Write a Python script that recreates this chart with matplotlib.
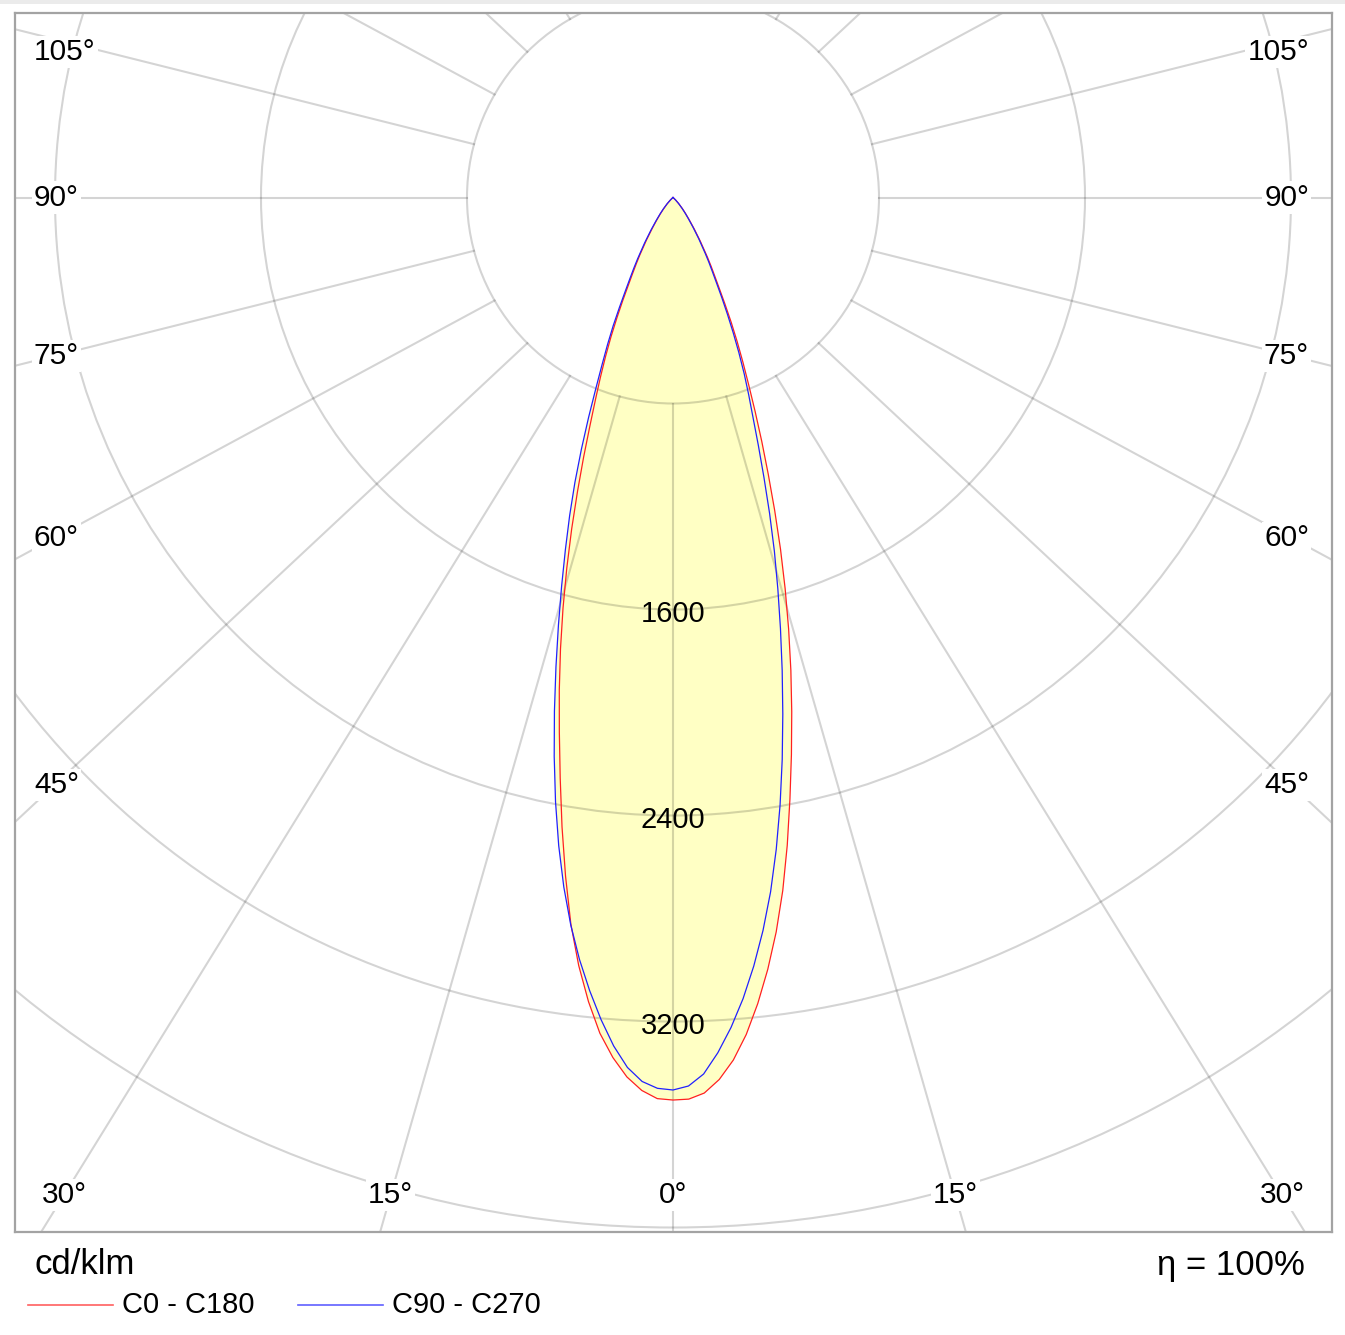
import numpy as np
import matplotlib.pyplot as plt
from matplotlib.lines import Line2D
from matplotlib.patches import Circle, Rectangle

plt.rcParams['font.family'] = ['Liberation Sans', 'DejaVu Sans']

# luminous intensity (cd/klm) against gamma (degrees from nadir)
gamma = list(range(0, 31)) + [32, 34, 36, 38, 40, 43, 46, 50, 90]
c0 = [3505, 3502, 3480, 3430, 3358, 3263, 3148, 3020, 2880, 2725,
      2555, 2380, 2212, 2050, 1892, 1735, 1580, 1428, 1278, 1136,
      1008, 890, 785, 695, 613, 535, 460, 395, 345, 305,
      267, 200, 148, 108, 80, 58, 33, 15, 4, 0]
c180 = [3505, 3500, 3470, 3420, 3348, 3258, 3140, 3005, 2850, 2668,
        2482, 2296, 2123, 1963, 1806, 1650, 1496, 1346, 1200, 1066,
        943, 840, 752, 670, 592, 515, 445, 382, 334, 294,
        258, 194, 143, 105, 78, 56, 32, 14, 4, 0]
c90 = [3466, 3451, 3406, 3326, 3231, 3123, 3001, 2868, 2723, 2563,
       2395, 2223, 2051, 1885, 1725, 1573, 1428, 1283, 1143, 1018,
       908, 820, 738, 655, 575, 500, 432, 372, 325, 287,
       250, 188, 138, 101, 75, 54, 31, 14, 4, 0]
c270 = [3466, 3460, 3435, 3383, 3303, 3205, 3097, 2981, 2853, 2711,
        2556, 2391, 2219, 2047, 1879, 1719, 1569, 1429, 1299, 1170,
        1040, 915, 800, 705, 625, 550, 474, 408, 356, 314,
        275, 208, 154, 113, 83, 60, 34, 15, 4, 0]

rings = [800, 1600, 2400, 3200, 4000, 4800]
ring_labels = [1600, 2400, 3200]
spokes = np.arange(0, 181, 15)
side_labels = [45, 60, 75, 90, 105]
bottom_labels = [0, 15, 30]

W, H = 1345, 1335
u = 800 / 206.0          # cd/klm per pixel
cx, cy = 673, 197.5      # origin in pixels
box = (15, 13, 1332, 1232)
xlim = (-(cx - box[0]) * u, (box[2] - cx) * u)
ylim = (-(box[3] - cy) * u, (cy - box[1]) * u)
skew = 1.07              # spokes lean a little, as in the original drawing

fig = plt.figure(figsize=(W / 100, H / 100), dpi=100)
fig.add_artist(Rectangle((0, 1 - 4 / H), 1, 4 / H, transform=fig.transFigure,
                         color='#ebebeb', lw=0))
ax = fig.add_axes([box[0] / W, 1 - box[3] / H, (box[2] - box[0]) / W, (box[3] - box[1]) / H])
ax.set_xlim(*xlim)
ax.set_ylim(*ylim)
ax.set_xticks([])
ax.set_yticks([])
for sp in ax.spines.values():
    sp.set_color('#a3a3a3')
    sp.set_linewidth(1.6)

g = np.radians(gamma)


def half(vals, side):
    vals = np.asarray(vals, float)
    return side * vals * np.sin(g), -vals * np.cos(g)


def outline(left, right):
    xl, yl = half(left, -1)
    xr, yr = half(right, 1)
    return np.r_[xl[::-1], xr], np.r_[yl[::-1], yr]


# fill = union of both planes
fx, fy = outline(np.maximum(c180, c270), np.maximum(c0, c90))
ax.fill(fx, fy, color='#ffffc4', lw=0, zorder=1)

grid_kw = dict(color='black', alpha=0.17, lw=1.5, zorder=2)
for r in rings:
    ax.add_patch(Circle((0, 0), r, fill=False, ec='black', alpha=0.17, lw=1.5, zorder=2))


def spoke(th, side, t):
    s, c = np.sin(th), np.cos(th)
    return side * (800 * s + t * skew * s), -800 * c - t * c


for a in spokes:
    th = np.radians(a)
    for side in ([1] if a in (0, 180) else [-1, 1]):
        x0, y0 = spoke(th, side, 0)
        x1, y1 = spoke(th, side, 8000)
        ax.plot([x0, x1], [y0, y1], **grid_kw)

lab_kw = dict(fontsize=21.5, color='black', zorder=5,
              bbox=dict(facecolor='white', edgecolor='none', pad=1.5))
xl_probe = xlim[0] + 40 * u
xr_probe = xlim[1] - 41 * u
y_top = ylim[1] - 39 * u
for a in side_labels:
    th = np.radians(a)
    s, c = np.sin(th), np.cos(th)
    t = (-xl_probe - 800 * s) / (skew * s)
    y = min(-800 * c - t * c, y_top)
    ax.text(xlim[0] + 19 * u, y, f'{a}°', ha='left', va='center', **lab_kw)
    t = (xr_probe - 800 * s) / (skew * s)
    y = min(-800 * c - t * c, y_top)
    ax.text(xlim[1] - 23 * u, y, f'{a}°', ha='right', va='center', **lab_kw)

yb = ylim[0] + 37 * u
for a in bottom_labels:
    th = np.radians(a)
    s, c = np.sin(th), np.cos(th)
    t = (-yb - 800 * c) / c
    x = 800 * s + t * skew * s
    sides = [1] if a == 0 else [-1, 1]
    for side in sides:
        ax.text(side * x, yb, f'{a}°', ha='center', va='center', **lab_kw)

for r in ring_labels:
    ax.text(0, -(r + 18), str(r), ha='center', va='center', fontsize=21, zorder=5)

# the two planes
rx, ry = outline(c180, c0)
bx, by = outline(c270, c90)
ax.plot(rx, ry, color='#ff2020', lw=0.9, zorder=4)
ax.plot(bx, by, color='#2020ff', lw=0.9, zorder=4)

# footer
fig.text(34 / W, 1 - 1265 / H, 'cd/klm', fontsize=25, ha='left', va='center')
fig.text(1305 / W, 1 - 1265 / H, 'η = 100%', fontsize=25, ha='right', va='center')
ly = 1 - 1305 / H
fig.add_artist(Line2D([28 / W, 113 / W], [ly, ly], color='#ff6060', lw=1.2))
fig.text(122 / W, ly, 'C0 - C180', fontsize=21, ha='left', va='center')
fig.add_artist(Line2D([298 / W, 383 / W], [ly, ly], color='#6060ff', lw=1.2))
fig.text(392 / W, ly, 'C90 - C270', fontsize=21, ha='left', va='center')

fig.savefig('out.png', dpi=100, facecolor='white')
